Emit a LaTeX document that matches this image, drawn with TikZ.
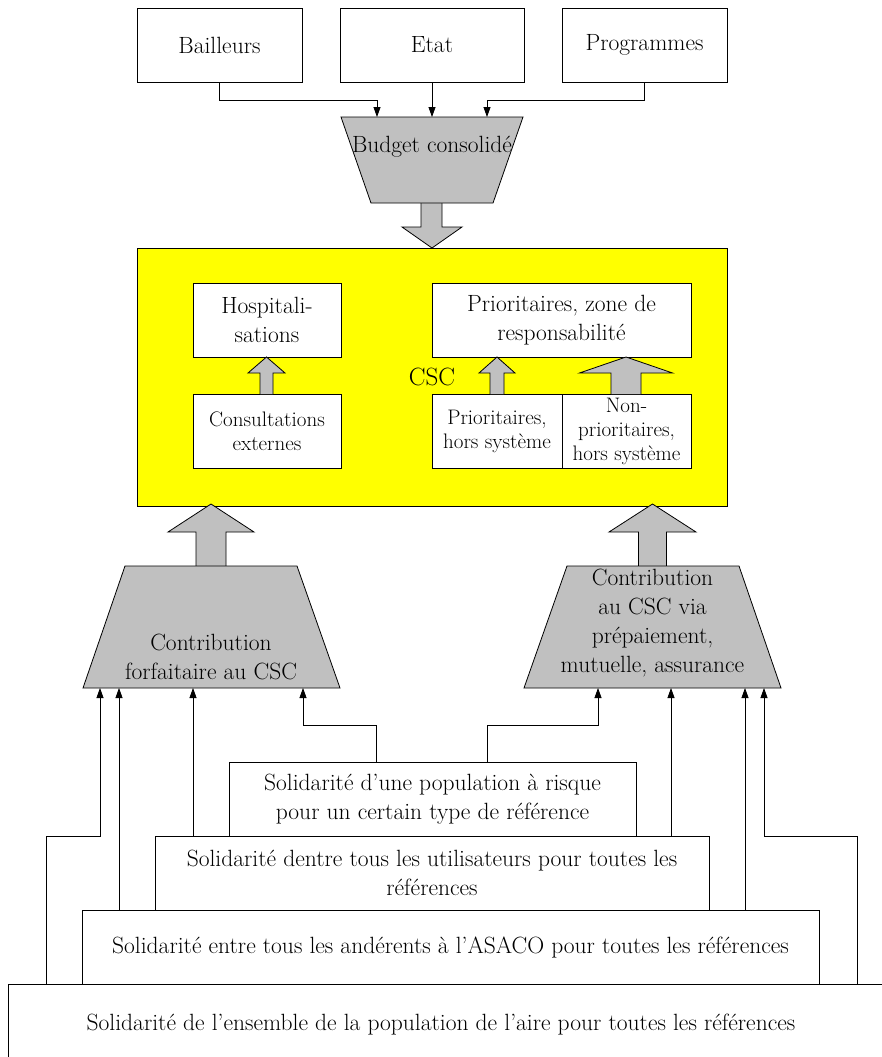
\documentclass[tikz,border=0pt]{standalone}
\usepackage{fontspec}
\usepackage{xcolor}
\definecolor{Silver}{HTML}{C0C0C0}
\definecolor{Canary}{HTML}{FFFF00}
\usetikzlibrary{positioning,calc,arrows.meta}
\newcommand{\bigtxt}{\fontsize{23.5}{29}\selectfont}
\newcommand{\smalltxt}{\fontsize{21}{24}\selectfont}

\begin{document}
\begin{tikzpicture}[x=1pt,y=-1pt,line width=0.8pt,
 box/.style={draw,fill=white,minimum height=74pt,inner sep=1pt,align=center,font=\bigtxt},
 word/.style={align=center,font=\bigtxt},
 fat/.style={draw,fill=Silver},
 flow/.style={-{Triangle[length=10pt,width=7pt]}}]
\clip (0,0) rectangle (882,1057);
\fill[white] (0,0) rectangle (882,1057);
\node[box,minimum width=165pt] (bail) at (219.5,45) {Bailleurs};
\node[box,minimum width=184pt] (etat) at (432,45) {Etat};
\node[box,minimum width=165pt] (prog) at (644.5,45) {Programmes};
\draw[fat] (421,200) -- (421,227) -- (402,227) -- (432,248) -- (462,227) -- (442,227) -- (442,200);
\draw[fat] (341,117) -- (523,117) -- (493,203) -- (371,203) -- cycle;
\node[word] (budget) at (432,147) {Budget consolidé};
\coordinate (bl) at (377,117); \coordinate (bm) at (432,117); \coordinate (br) at (487,117);
\draw[flow] (bail.south) -- ++(0,18) -| (bl);
\draw[flow] (etat.south) -- (etat.south |- bm);
\draw[flow] (prog.south) -- ++(0,18) -| (br);
\node[draw,fill=Canary,minimum width=590pt,minimum height=258pt,font=\fontsize{25}{29}\selectfont] (csc) at (432,377) {CSC};
\node[box,minimum width=148pt] (hosp) at (267,320) {Hospitali-\\sations};
\node[box,minimum width=148pt,font=\smalltxt] (cons) at (267,431) {Consultations\\externes};
\node[box,minimum width=259pt] (zone) at (561.5,320) {Prioritaires, zone de\\responsabilité};
\node[box,minimum width=130pt,font=\smalltxt] (phs) at (497,431) {Prioritaires,\\hors système};
\node[box,minimum width=129pt,font=\smalltxt] (nphs) at (626.5,431) {Non-\\prioritaires,\\hors système};
\foreach \cx/\yb/\yh/\yt/\sw/\hw in {266.5/394/373/357/6.5/18.5,497/394/373/357/7/18,626/394/373/357/15/46.5,
 211/566/532/504/15/43,652.5/566/532/504/14/43.5}
 \draw[fat] (\cx-\sw,\yb) -- (\cx-\sw,\yh) -- (\cx-\hw,\yh) -- (\cx,\yt) -- (\cx+\hw,\yh) -- (\cx+\sw,\yh) -- (\cx+\sw,\yb);
\draw[fat] (125,566) -- (297,566) -- (340,688) -- (83,688) -- cycle;
\node[word] (lcon) at (211,657) {Contribution\\forfaitaire au CSC};
\draw[fat] (567,566) -- (739,566) -- (781,688) -- (524,688) -- cycle;
\node[word] (rcon) at (652.5,623) {Contribution\\au CSC via\\prépaiement,\\mutuelle, assurance};
\node[box,minimum width=407pt] (b1) at (432.5,799) {Solidarité d'une population à risque\\pour un certain type de référence};
\node[box,minimum width=554pt] (b2) at (432,873) {Solidarité dentre tous les utilisateurs pour toutes les\\références};
\node[box,minimum width=737pt] (b3) at (450.5,947) {Solidarité entre tous les andérents à l'ASACO pour toutes les références};
\draw (8,1100) |- (900,984);
\coordinate (b4n) at (441,984);
\node[word] (b4) at (441,1025) {Solidarité de l'ensemble de la population de l'aire pour toutes les références};
\coordinate (l1) at (100,688); \coordinate (l2) at (119,688); \coordinate (l3) at (193,688); \coordinate (l4) at (303,688);
\coordinate (r1) at (598,688); \coordinate (r2) at (671,688); \coordinate (r3) at (745,688); \coordinate (r4) at (764,688);
\coordinate (k1) at (46,836); \coordinate (k4) at (376,725); \coordinate (k5) at (487,725); \coordinate (k8) at (857,836);
\draw[flow] (k1 |- b4n) -- (k1) -| (l1);
\draw[flow] (l2 |- b3.north) -- (l2);
\draw[flow] (l3 |- b2.north) -- (l3);
\draw[flow] (k4 |- b1.north) -- (k4) -| (l4);
\draw[flow] (k5 |- b1.north) -- (k5) -| (r1);
\draw[flow] (r2 |- b2.north) -- (r2);
\draw[flow] (r3 |- b3.north) -- (r3);
\draw[flow] (k8 |- b4n) -- (k8) -| (r4);
\end{tikzpicture}
\end{document}
